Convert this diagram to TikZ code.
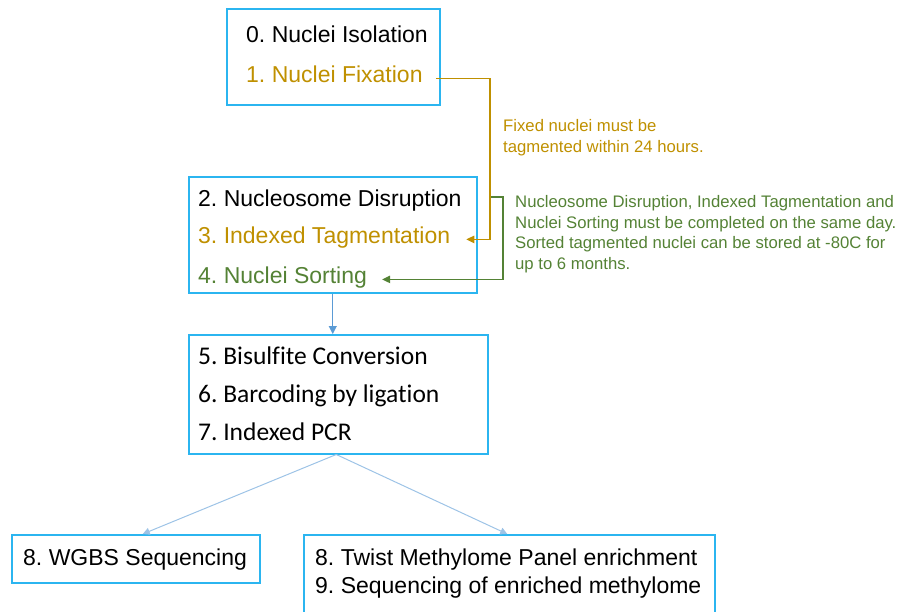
\documentclass[tikz,border=0pt]{standalone}
\usepackage{fontspec}
\setmainfont{Liberation Sans}
\newfontfamily\calib[Ligatures=CommonOff]{Carlito}
\usetikzlibrary{arrows.meta,calc}
\definecolor{boxblue}{HTML}{2BB5F0}
\definecolor{gold}{HTML}{BF9000}
\definecolor{grn}{HTML}{548235}
\definecolor{arr}{HTML}{5B9BD5}
\definecolor{arrl}{HTML}{9DC3E6}
\frenchspacing
\begin{document}
\frenchspacing
\begin{tikzpicture}[x=1pt,y=-1pt,
  box/.style={draw=boxblue,line width=1.5pt,anchor=north west,inner sep=0pt},
  big/.style={anchor=base west,inner sep=0pt,text height=0.72em,text depth=0pt,font=\fontsize{23}{27}\selectfont},
  cal/.style={anchor=base west,inner sep=0pt,font=\calib\fontsize{25.5}{28}\selectfont},
  note/.style={anchor=base west,inner sep=0pt,align=left},
  elbow/.style={line width=1.1pt,-{Triangle[length=8pt,width=7.5pt]}},
  flow/.style={draw=arr,line width=1pt,-{Triangle[length=8pt,width=8pt]}},
  flowl/.style={draw=arrl,line width=1pt,-{Triangle[length=7pt,width=7pt]}}]
\useasboundingbox (0,0) rectangle (909,611);
\clip (0,0) rectangle (909,611);
% boxes
\node[box,minimum width=213pt,minimum height=96pt] (b0) at (226,8) {};
\node[box,minimum width=288pt,minimum height=116pt] (b2) at (188,176) {};
\node[box,minimum width=299pt,minimum height=119pt] (b5) at (188,334) {};
\node[box,minimum width=248pt,minimum height=48pt] (bw) at (11,534) {};
\node[box,minimum width=411pt,minimum height=100pt] (bt) at (303,534) {};
% texts
\node[big] (t0) at (246,42) {0. Nuclei Isolation};
\node[big,text=gold] (t1) at (246,82) {1. Nuclei Fixation};
\node[big] (t2) at (198,206) {2. Nucleosome Disruption};
\node[big,text=gold] (t3) at (198,243) {3. Indexed Tagmentation};
\node[big,text=grn] (t4) at (198,283) {4. Nuclei Sorting};
\node[cal] (t5) at (198,364) {5. Bisulfite Conversion};
\node[cal] (t6) at (198,402) {6. Barcoding by ligation};
\node[cal] (t7) at (198,440) {7. Indexed PCR};
\node[big] (t8) at (23,565) {8. WGBS Sequencing};
\node[big] (t9) at (315,565) {8. Twist Methylome Panel enrichment};
\node[big] (t10) at (315,593) {9. Sequencing of enriched methylome};
% notes (base anchor = last line)
\node[note,text=gold,font=\fontsize{16.7}{21}\selectfont] (n1) at (503,152)
  {Fixed nuclei must be\\tagmented within 24 hours.};
\node[note,text=grn,font=\fontsize{16.7}{20.4}\selectfont] (n2) at (515,269)
  {Nucleosome Disruption, Indexed Tagmentation and\\Nuclei Sorting must be completed on the same day.\\Sorted tagmented nuclei can be stored at -80C for\\up to 6 months.};
% elbow connectors
\coordinate (gx) at (490,0);
\draw[elbow,draw=gold] ([xshift=13pt]t1.east) -- (t1.east -| gx) -- (t3.east -| gx) -- ([xshift=16pt]t3.east);
\coordinate (gs) at (491,197);
\coordinate (gx2) at (503,0);
\draw[elbow,draw=grn] (gs) -- (gs -| gx2) -- (t4.east -| gx2) -- ([xshift=15pt]t4.east);
% flow arrows
\draw[flow] (b2.south) -- (b2.south |- b5.north);
\draw[flowl] ([xshift=-2pt]b5.south) -- ([xshift=7pt]bw.north);
\draw[flowl] ([xshift=-2pt]b5.south) -- ([xshift=-2pt]bt.north);
\end{tikzpicture}
\end{document}
